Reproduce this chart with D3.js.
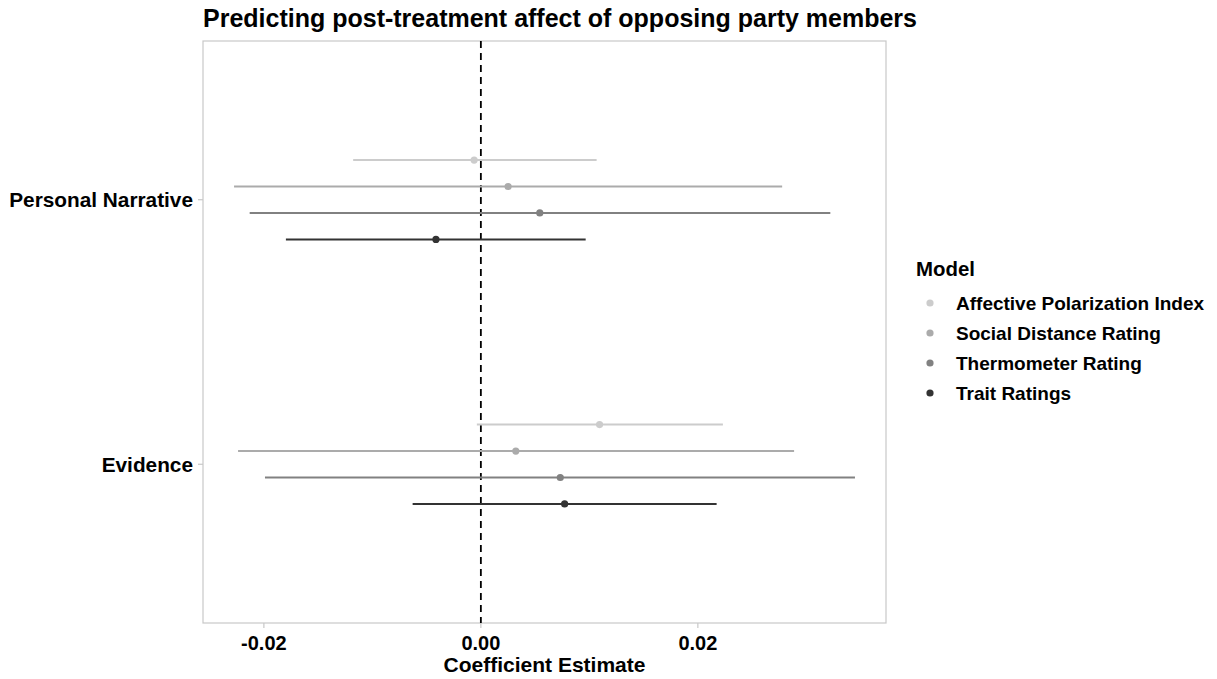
<!DOCTYPE html>
<html>
<head>
<meta charset="utf-8">
<script src="https://cdn.jsdelivr.net/npm/d3@7"></script>
<style>
  body { margin: 0; background: #fff; }
  text { font-family: "Liberation Sans", Arial, sans-serif; font-weight: bold; fill: #000; }
</style>
</head>
<body>
<script>
// terms on the y axis, models in the legend
const terms = ["Personal Narrative", "Evidence"];
const models = ["Affective Polarization Index", "Social Distance Rating", "Thermometer Rating", "Trait Ratings"];
const modelColors = ["#cccccc", "#ababab", "#818181", "#333333"];

// estimates and interval bounds, one entry per model, per term
const estPN  = [-0.00062, 0.00251, 0.00543, -0.00414];
const lowPN  = [-0.01177, -0.02275, -0.02131, -0.01797];
const highPN = [0.01067, 0.02777, 0.03221, 0.00966];
const estEv  = [0.01094, 0.00322, 0.00732, 0.00772];
const lowEv  = [-0.00037, -0.02238, -0.0199, -0.00629];
const highEv = [0.02231, 0.02887, 0.03448, 0.02173];
const xTicks = [-0.02, 0, 0.02];

const rows = [];
models.forEach((m, i) => {
  rows.push({term: terms[0], model: m, i: i, est: estPN[i], lo: lowPN[i], hi: highPN[i]});
  rows.push({term: terms[1], model: m, i: i, est: estEv[i], lo: lowEv[i], hi: highEv[i]});
});

let width = 1217, height = 679;
let panel = {left: 203, right: 886, top: 41, bottom: 623};

let svg = d3.select("body").append("svg")
  .attr("width", width).attr("height", height);

let lo = d3.min(rows, d => d.lo), hi = d3.max(rows, d => d.hi);
let pad = (hi - lo) * 0.05;
let x = d3.scaleLinear().domain([lo - pad, hi + pad]).range([panel.left, panel.right]);

// discrete y: two slots with ggplot-style 0.6 expansion
let y = d3.scaleLinear().domain([0.4, 2.6]).range([panel.top, panel.bottom]);
let dodge = 0.1;  // spacing between models inside a term
let yPos = d => y(terms.indexOf(d.term) + 1 + (d.i - 1.5) * dodge);

let color = d3.scaleOrdinal().domain(models).range(modelColors);

// panel border
svg.append("rect")
  .attr("x", panel.left).attr("y", panel.top)
  .attr("width", panel.right - panel.left).attr("height", panel.bottom - panel.top)
  .attr("fill", "none").attr("stroke", "#c8c8c8").attr("stroke-width", 1.2);

// zero line
svg.append("line")
  .attr("x1", x(0)).attr("x2", x(0))
  .attr("y1", panel.top).attr("y2", panel.bottom)
  .attr("stroke", "#000").attr("stroke-width", 1.8)
  .attr("stroke-dasharray", "7,5");

// intervals
svg.append("g").selectAll("line").data(rows).enter()
  .append("line")
  .attr("x1", d => x(d.lo)).attr("x2", d => x(d.hi))
  .attr("y1", yPos).attr("y2", yPos)
  .attr("stroke", d => color(d.model)).attr("stroke-width", 2);

svg.append("g").selectAll("circle").data(rows).enter()
  .append("circle")
  .attr("cx", d => x(d.est)).attr("cy", yPos).attr("r", 3.6)
  .attr("fill", d => color(d.model));

// x axis
let xAxis = svg.append("g").attr("transform", "translate(0," + panel.bottom + ")");
xAxis.selectAll("line").data(xTicks).enter().append("line")
  .attr("x1", d => x(d)).attr("x2", d => x(d))
  .attr("y1", 0).attr("y2", 5)
  .attr("stroke", "#c8c8c8").attr("stroke-width", 1.2);
xAxis.selectAll("text").data(xTicks).enter().append("text")
  .attr("x", d => x(d)).attr("y", 27)
  .attr("text-anchor", "middle").style("font-size", "20px")
  .text(d => d3.format(".2f")(d).replace("\u2212", "-"));

svg.append("text")
  .attr("x", (panel.left + panel.right) / 2).attr("y", 672)
  .attr("text-anchor", "middle").style("font-size", "21px")
  .text("Coefficient Estimate");

// y axis
let yAxis = svg.append("g");
yAxis.selectAll("line").data(terms).enter().append("line")
  .attr("x1", panel.left - 5).attr("x2", panel.left)
  .attr("y1", (d, i) => y(i + 1)).attr("y2", (d, i) => y(i + 1))
  .attr("stroke", "#c8c8c8").attr("stroke-width", 1.2);
yAxis.selectAll("text").data(terms).enter().append("text")
  .attr("x", panel.left - 10).attr("y", (d, i) => y(i + 1))
  .attr("dy", "0.35em").attr("text-anchor", "end").style("font-size", "20.8px")
  .text(d => d);

// title
svg.append("text")
  .attr("x", 203).attr("y", 27)
  .style("font-size", "25px")
  .text("Predicting post-treatment affect of opposing party members");

// legend
let legend = svg.append("g").attr("transform", "translate(916,0)");
legend.append("text").attr("x", 0).attr("y", 276).style("font-size", "20.4px").text("Model");
let items = legend.selectAll(".legend-item").data(models).enter().append("g")
  .classed("legend-item", true)
  .attr("transform", (d, i) => "translate(0," + (303 + i * 30) + ")");
items.append("circle").attr("cx", 14).attr("cy", 0).attr("r", 3.6)
  .attr("fill", d => color(d));
items.append("text").attr("x", 40).attr("y", 0).attr("dy", "0.35em")
  .style("font-size", "19px").text(d => d);
</script>
</body>
</html>
